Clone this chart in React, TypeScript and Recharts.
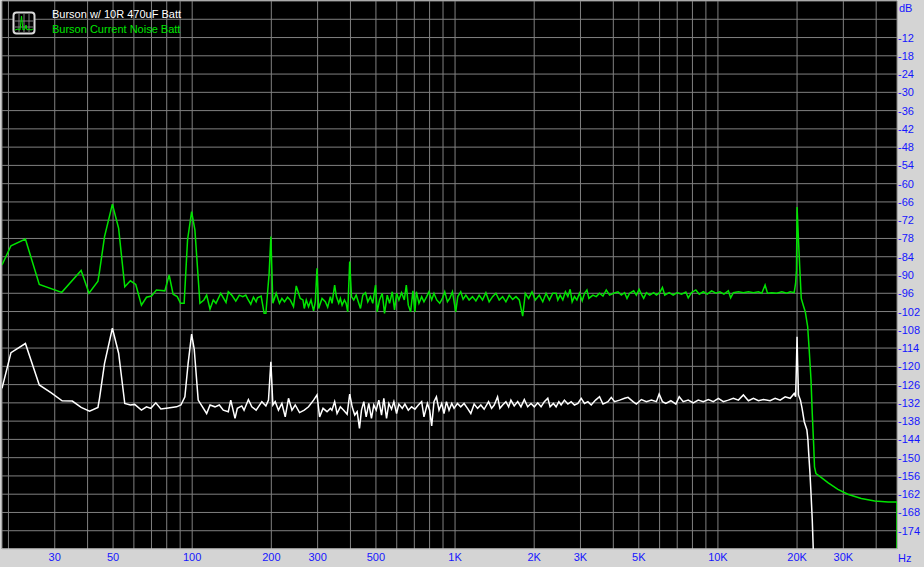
import React from 'react';
import { LineChart, Line, XAxis, YAxis, CartesianGrid, Legend } from 'recharts';

// ---------- data (frequency Hz, level dB) ----------
const seriesNames = ['Burson w/ 10R 470uF Batt', 'Burson Current Noise Batt'];

const whitePoints: [number, number][] = [
  [18.9,-127.2],[20.45,-115.5],[23.2,-112.5],[26.2,-126.1],[29.1,-128.7],[32.0,-131.3],[35.0,-131.4],[37.8,-133.5],[40.7,-134.7],[43.8,-133.5],
  [44.4,-130.5],[46.4,-119.0],[49.7,-107.5],[52.5,-115.7],[55.4,-132.2],[58.2,-132.7],[60.4,-132.5],[64.1,-134.4],[67.0,-133.3],[69.6,-133.8],
  [72.7,-132.0],[76.0,-134.0],[81.0,-133.7],[87.2,-133.3],[90.6,-132.7],[93.8,-130.0],[96.5,-119.0],[99.5,-109.4],[101.8,-114.4],[105.4,-131.1],
  [113.5,-135.5],[116.9,-132.7],[122.1,-133.3],[126.8,-132.7],[131.3,-134.4],[137.2,-134.9],[140.2,-131.1],[145.5,-137.1],[148.5,-133.8],[154.4,-133.0],
  [157.5,-134.4],[163.6,-130.9],[168.6,-133.3],[175.1,-134.4],[184.1,-131.6],[190.7,-133.0],[195.1,-131.1],[199.2,-118.5],[202.7,-132.7],[206.9,-131.6],
  [212.9,-134.4],[219.4,-132.2],[225.9,-136.6],[232.5,-130.5],[239.6,-134.4],[246.6,-132.7],[256.1,-135.2],[266.9,-134.4],[277.1,-133.3],[289.6,-131.1],
  [298.4,-129.4],[305.3,-136.6],[314.6,-133.8],[325.8,-134.9],[335.5,-133.8],[340.0,-134.4],[348.3,-131.6],[355.7,-135.5],[366.2,-133.3],[377.0,-134.4],
  [388.5,-135.7],[397.4,-129.1],[406.0,-133.3],[415.3,-136.0],[424.2,-134.9],[432.9,-140.4],[440.6,-134.4],[449.6,-131.6],[459.1,-136.6],[469.6,-132.2],
  [480.8,-137.1],[490.6,-132.7],[501.2,-134.4],[512.8,-131.1],[525.1,-136.0],[535.8,-130.5],[548.7,-137.1],[559.9,-132.2],[573.3,-134.1],[585.1,-131.6],
  [599.1,-135.5],[611.4,-132.4],[629.8,-133.8],[644.4,-132.4],[663.9,-134.4],[683.4,-133.3],[703.6,-134.1],[725.0,-132.7],[746.3,-131.6],[761.6,-136.6],
  [784.7,-132.2],[800.6,-134.4],[814.9,-139.6],[831.4,-131.6],[849.2,-130.0],[868.8,-134.4],[889.6,-132.2],[907.8,-135.5],[927.3,-131.6],[948.6,-134.4],
  [971.4,-132.2],[991.3,-133.8],[1021,-132.2],[1051,-133.3],[1082,-132.2],[1115,-133.8],[1148,-135.5],[1182,-132.4],[1218,-133.8],[1253,-132.7],
  [1290,-134.1],[1341,-131.6],[1377,-133.8],[1409,-132.7],[1451,-130.0],[1481,-133.8],[1517,-132.7],[1561,-131.6],[1599,-133.3],[1631,-131.1],
  [1679,-133.0],[1731,-131.6],[1781,-133.3],[1834,-130.9],[1889,-133.3],[1945,-132.2],[2002,-133.3],[2063,-132.0],[2124,-133.3],[2186,-131.6],
  [2253,-130.5],[2299,-133.3],[2366,-132.2],[2423,-133.3],[2482,-131.6],[2532,-132.7],[2606,-131.1],[2686,-132.4],[2765,-131.6],[2846,-132.7],
  [2933,-132.2],[3019,-130.5],[3108,-132.2],[3201,-131.6],[3296,-132.7],[3423,-131.1],[3545,-130.0],[3653,-132.4],[3817,-131.6],[3929,-130.2],
  [4045,-131.6],[4227,-131.1],[4416,-130.5],[4550,-130.2],[4755,-131.6],[4894,-132.4],[5115,-130.9],[5345,-131.6],[5584,-131.1],[5834,-131.6],
  [5975,-129.1],[6150,-131.6],[6339,-132.2],[6622,-131.3],[6920,-132.4],[7124,-130.0],[7377,-131.6],[7709,-131.1],[8056,-132.0],[8419,-131.1],
  [8796,-131.6],[9192,-130.9],[9603,-131.6],[10035,-130.5],[10486,-131.6],[10956,-131.1],[11448,-130.5],[11963,-131.1],[12500,-129.4],[13062,-131.3],
  [13650,-130.5],[14263,-131.3],[14904,-130.9],[15792,-131.3],[16506,-130.5],[17242,-131.1],[18018,-130.0],[18828,-130.5],[19503,-128.9],[19750,-130.0],
  [19900,-119.0],[20000,-110.3],[20100,-119.0],[20250,-129.4],[20600,-131.1],[20900,-133.8],[21300,-138.2],[21800,-140.9],[22000,-144.2],[22150,-148.6],
  [22400,-155.2],[22600,-161.7],[22850,-170.5],[23050,-180.0],
];

const greenPoints: [number, number][] = [
  [18.9,-86.7],[20.45,-80.4],[23.2,-78.2],[26.2,-93.1],[31.9,-95.7],[37.8,-88.5],[40.5,-96.0],[43.8,-92.0],[44.4,-88.9],[46.4,-77.4],
  [49.7,-66.7],[52.5,-74.7],[55.4,-93.9],[58.2,-91.9],[61.0,-93.1],[64.1,-99.9],[67.0,-97.3],[70.0,-96.9],[73.1,-94.9],[78.7,-95.2],
  [81.7,-90.0],[84.6,-96.3],[87.7,-97.1],[90.3,-99.3],[93.2,-99.3],[96.0,-78.5],[99.5,-69.2],[102.4,-75.2],[107.0,-99.3],[110.8,-98.2],
  [113.5,-96.6],[116.9,-101.2],[120.3,-98.2],[123.2,-99.3],[128.4,-96.0],[134.5,-99.0],[137.2,-95.5],[141.4,-96.6],[146.5,-98.6],[151.1,-96.6],
  [155.8,-97.1],[159.9,-96.6],[162.8,-97.9],[167.1,-99.6],[171.0,-97.3],[175.1,-98.8],[177.1,-97.5],[182.9,-96.9],[187.8,-102.6],[190.7,-102.6],
  [196.2,-89.5],[199.2,-77.4],[202.7,-99.3],[208.7,-96.0],[214.8,-99.3],[219.4,-97.7],[224.5,-98.8],[230.5,-97.3],[236.0,-98.2],[242.9,-100.4],
  [248.8,-93.6],[257.7,-97.7],[263.9,-98.2],[266.9,-101.0],[271.6,-98.2],[277.1,-100.4],[283.1,-98.2],[289.6,-101.8],[294.0,-98.8],[298.4,-87.8],
  [302.6,-101.0],[311.8,-97.7],[321.0,-98.8],[327.6,-100.6],[335.5,-97.1],[340.5,-99.3],[348.3,-93.3],[353.6,-97.1],[360.9,-99.3],[366.2,-97.7],
  [371.8,-99.9],[379.4,-98.2],[385.1,-99.3],[390.6,-102.1],[397.4,-85.6],[403.5,-97.1],[411.7,-98.2],[420.5,-96.6],[430.2,-99.3],[436.7,-101.0],
  [445.7,-96.6],[456.4,-95.8],[465.6,-98.8],[476.5,-97.1],[486.3,-99.3],[498.2,-93.3],[505.7,-102.1],[516.0,-98.2],[528.4,-96.0],[539.2,-102.6],
  [552.1,-96.6],[563.4,-99.3],[576.9,-95.5],[588.6,-101.5],[599.1,-96.0],[611.4,-98.2],[626.0,-95.8],[641.0,-98.2],[652.4,-93.3],[663.9,-99.9],
  [677.5,-102.1],[691.3,-95.2],[703.6,-102.1],[712.4,-95.5],[728.8,-99.3],[746.3,-97.1],[761.6,-98.8],[779.8,-97.1],[795.8,-95.5],[814.9,-98.2],
  [831.4,-96.0],[851.5,-98.2],[874.2,-99.3],[895.2,-97.7],[913.5,-95.5],[935.4,-98.8],[954.6,-97.7],[977.5,-95.5],[1006,-102.1],[1024,-97.1],
  [1051,-95.5],[1073,-98.0],[1099,-96.6],[1131,-98.2],[1165,-97.1],[1200,-98.5],[1235,-96.6],[1272,-98.2],[1310,-95.8],[1348,-98.8],
  [1389,-97.1],[1430,-96.0],[1472,-98.2],[1517,-97.1],[1561,-98.8],[1607,-96.6],[1656,-98.0],[1705,-97.1],[1755,-98.2],[1808,-103.5],
  [1850,-96.0],[1906,-97.7],[1962,-95.5],[2020,-98.2],[2092,-96.6],[2156,-98.8],[2219,-96.0],[2285,-98.2],[2354,-96.0],[2423,-96.0],
  [2460,-98.2],[2510,-96.6],[2570,-98.2],[2629,-95.5],[2686,-97.1],[2741,-94.7],[2789,-98.8],[2846,-97.1],[2907,-98.2],[2974,-96.0],
  [3045,-98.5],[3108,-96.0],[3174,-94.9],[3230,-97.7],[3345,-96.6],[3444,-97.1],[3545,-96.0],[3653,-96.9],[3760,-94.9],[3871,-96.6],
  [4010,-96.0],[4167,-95.5],[4290,-96.6],[4416,-95.8],[4510,-97.7],[4614,-96.0],[4780,-95.2],[4894,-96.6],[5012,-94.7],[5115,-96.3],
  [5219,-97.7],[5345,-95.8],[5502,-96.6],[5698,-95.8],[5834,-96.6],[6006,-95.8],[6150,-94.1],[6276,-96.6],[6524,-95.8],[6758,-96.6],
  [6998,-95.8],[7269,-96.3],[7549,-95.6],[7709,-97.5],[7936,-95.8],[8241,-94.9],[8492,-96.3],[8796,-95.5],[9110,-96.3],[9462,-95.2],
  [9827,-96.0],[10176,-95.5],[10541,-96.3],[10956,-95.2],[11180,-97.5],[11448,-95.8],[11963,-95.5],[12500,-95.8],[13062,-95.5],[13650,-95.8],
  [14263,-95.5],[14683,-96.0],[15115,-93.3],[15436,-96.0],[16032,-95.8],[16749,-96.0],[17501,-95.5],[18289,-96.0],[18828,-95.5],[19503,-95.8],
  [19750,-92.7],[19900,-88.4],[20000,-67.7],[20250,-78.5],[20500,-88.4],[20750,-97.7],[21200,-100.4],[21500,-102.1],[21950,-107.0],[22250,-114.7],
  [22600,-124.5],[22850,-135.5],[23150,-146.4],[23300,-153.0],[23600,-155.2],[24700,-156.5],[26200,-158.2],[28600,-160.4],[31200,-162.0],[35100,-163.4],
  [39500,-164.2],[44400,-164.6],[48000,-164.6],[48000,-180.0],
];

const xGridTicks = [20,30,40,50,60,70,80,90,100,200,300,400,500,600,700,800,900,1000,2000,3000,4000,5000,6000,7000,8000,9000,10000,20000,30000,40000];
const xTickLabels: Record<number, string> = {
  30: '30', 50: '50', 100: '100', 200: '200', 300: '300', 500: '500',
  1000: '1K', 2000: '2K', 3000: '3K', 5000: '5K', 10000: '10K', 20000: '20K', 30000: '30K',
};
const yGridTicks = [0,-6,-12,-18,-24,-30,-36,-42,-48,-54,-60,-66,-72,-78,-84,-90,-96,-102,-108,-114,-120,-126,-132,-138,-144,-150,-156,-162,-168,-174,-180];
const yLabelSkip = [-6, -180];

// ---------- styles ----------
const FONT = '"Liberation Sans", Arial, sans-serif';
const BLUE = '#1414ff';
const BG = '#d4d4d4';
const GRID = '#808080';
const GREEN = '#00e400';
const WHITE = '#ffffff';

const whiteData = whitePoints.map(([f, v]) => ({ f, v }));
const greenData = greenPoints.map(([f, v]) => ({ f, v }));

const XTick = (props: any) => {
  const { x, y, payload } = props;
  const label = xTickLabels[payload.value];
  if (!label) return <g />;
  return (
    <text x={x} y={y} dy={12} textAnchor="middle" fill={BLUE} fontSize={11} fontFamily={FONT}>
      {label}
    </text>
  );
};

const YTick = (props: any) => {
  const { x, y, payload } = props;
  const v = payload.value;
  if (v === 0) {
    return (
      <text x={x + 1} y={y} dy={10.5} textAnchor="start" fill={BLUE} fontSize={11} fontFamily={FONT}>
        dB
      </text>
    );
  }
  if (yLabelSkip.includes(v)) return <g />;
  return (
    <text x={x} y={y} dy={4} textAnchor="start" fill={BLUE} fontSize={11} fontFamily={FONT}>
      {String(v)}
    </text>
  );
};

const LegendIcon = () => (
  <svg width={24} height={24} style={{ position: 'absolute', left: 12, top: 11 }}>
    <rect x={1.5} y={1.5} width={21} height={21} rx={3} fill="#000" stroke="#d8d8d8" strokeWidth={2} />
    <line x1={7} y1={3} x2={7} y2={21} stroke="#808080" />
    <line x1={12} y1={3} x2={12} y2={21} stroke="#808080" />
    <line x1={17} y1={3} x2={17} y2={21} stroke="#808080" />
    <line x1={3} y1={10} x2={21} y2={10} stroke="#808080" />
    <line x1={3} y1={16} x2={21} y2={16} stroke="#808080" />
    <polyline
      points="3,19 6,18 8,19 9.5,5 11,19 13,18 14,14 15,19 17,18 19,19 21,18"
      fill="none"
      stroke={GREEN}
      strokeWidth={1}
    />
  </svg>
);

const LegendContent = () => (
  <div style={{ position: 'relative', width: 220, height: 40 }}>
    <LegendIcon />
    <div
      style={{
        position: 'absolute', left: 52, top: 7, color: WHITE, fontFamily: FONT,
        fontSize: 11, lineHeight: '15px', whiteSpace: 'nowrap',
      }}
    >
      {seriesNames[0]}
    </div>
    <div
      style={{
        position: 'absolute', left: 52, top: 22, color: GREEN, fontFamily: FONT,
        fontSize: 11, lineHeight: '15px', whiteSpace: 'nowrap',
      }}
    >
      {seriesNames[1]}
    </div>
  </div>
);

export default function App() {
  return (
    <div style={{ position: 'fixed', left: 0, top: 0, width: 924, height: 567, background: BG }}>
      <LineChart width={924} height={567} margin={{ top: 1, right: 0, bottom: 0, left: 2 }}>
        <CartesianGrid stroke={GRID} fill="#000" fillOpacity={1} />
        <XAxis
          dataKey="f"
          type="number"
          scale="log"
          domain={[18.9, 48000]}
          allowDataOverflow
          ticks={xGridTicks}
          interval={0}
          tick={XTick}
          tickLine={false}
          tickSize={0}
          tickMargin={0}
          height={18}
          axisLine={{ stroke: '#e8e8e8' }}
          label={{ value: 'Hz', position: 'right', offset: 1, fill: BLUE, fontSize: 11, fontFamily: FONT }}
        />
        <YAxis
          orientation="right"
          type="number"
          domain={[-180, 0]}
          allowDataOverflow
          ticks={yGridTicks}
          interval={0}
          tick={YTick}
          tickLine={false}
          tickSize={0}
          tickMargin={1}
          width={27}
          axisLine={false}
        />
        <Legend
          content={LegendContent}
          layout="vertical"
          align="center"
          verticalAlign="middle"
          wrapperStyle={{ left: 0, top: 0, width: 220, height: 40 }}
        />
        <Line
          data={whiteData}
          dataKey="v"
          name={seriesNames[0]}
          type="linear"
          stroke={WHITE}
          strokeWidth={1.5}
          dot={false}
          isAnimationActive={false}
        />
        <Line
          data={greenData}
          dataKey="v"
          name={seriesNames[1]}
          type="linear"
          stroke={GREEN}
          strokeWidth={1.5}
          dot={false}
          isAnimationActive={false}
        />
      </LineChart>
    </div>
  );
}
